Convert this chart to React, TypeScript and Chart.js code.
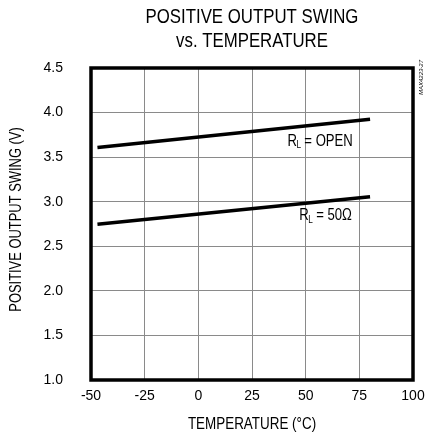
import React, { useEffect, useRef } from "react";
import { Chart, registerables } from "chart.js";

Chart.register(...registerables);

const TEMPS = [-47, 80];
const OPEN_VALUES = [3.607, 3.926];
const LOAD50_VALUES = [2.746, 3.056];

const X_TICKS = [-50, -25, 0, 25, 50, 75, 100];
const Y_TICKS = [1.0, 1.5, 2.0, 2.5, 3.0, 3.5, 4.0, 4.5];

const TITLE_LINES = ["POSITIVE OUTPUT SWING", "vs. TEMPERATURE"];
const X_TITLE = "TEMPERATURE (°C)";
const Y_TITLE = "POSITIVE OUTPUT SWING (V)";
const PART_NOTE = "MAX4223-27";

const LABELS = [
  { sub: "L", text: "= OPEN", x: 41.5, y: 3.68 },
  { sub: "L", text: "= 50Ω", x: 47, y: 2.84 },
];

const SANS = '"Liberation Sans", Arial, Helvetica, sans-serif';

function condensedText(ctx: any, text: string, x: number, y: number, size: number, sx: number, align: string) {
  ctx.save();
  ctx.translate(x, y);
  ctx.scale(sx, 1);
  ctx.font = `${size}px ${SANS}`;
  ctx.textAlign = align;
  ctx.textBaseline = "middle";
  ctx.fillText(text, 0, 0);
  ctx.restore();
}

const framePlugin = {
  id: "frame",
  afterDraw(chart: any) {
    const { ctx, chartArea, scales } = chart;
    const cx = (chartArea.left + chartArea.right) / 2;
    ctx.save();
    ctx.fillStyle = "#000";
    ctx.strokeStyle = "#000";
    ctx.lineWidth = 3.5;
    ctx.strokeRect(
      chartArea.left,
      chartArea.top,
      chartArea.right - chartArea.left,
      chartArea.bottom - chartArea.top
    );

    // chart title
    TITLE_LINES.forEach((line, i) => {
      condensedText(ctx, line, cx, 17 + i * 24, 20, 0.84, "center");
    });

    // axis titles
    condensedText(ctx, X_TITLE, cx, 424, 17, 0.79, "center");
    ctx.save();
    ctx.translate(16, 219.5);
    ctx.rotate(-Math.PI / 2);
    condensedText(ctx, Y_TITLE, 0, 0, 17, 0.76, "center");
    ctx.restore();

    // annotations
    ctx.textBaseline = "middle";
    ctx.textAlign = "left";
    for (const l of LABELS) {
      const px = scales.x.getPixelForValue(l.x);
      const py = scales.y.getPixelForValue(l.y);
      ctx.save();
      ctx.translate(px, py);
      ctx.scale(0.82, 1);
      ctx.font = `16px ${SANS}`;
      ctx.fillText("R", 0, 0);
      const rw = ctx.measureText("R").width;
      ctx.font = `10px ${SANS}`;
      ctx.fillText(l.sub, rw - 0.5, 4);
      const lw = ctx.measureText(l.sub).width;
      ctx.font = `16px ${SANS}`;
      ctx.fillText(l.text, rw + lw + 3.5, 0);
      ctx.restore();
    }

    // part note
    ctx.save();
    ctx.translate(chartArea.right + 8, chartArea.top + 27);
    ctx.rotate(-Math.PI / 2);
    ctx.font = `italic 6px ${SANS}`;
    ctx.textAlign = "left";
    ctx.textBaseline = "middle";
    ctx.fillText(PART_NOTE, 0, 0);
    ctx.restore();
    ctx.restore();
  },
};

export default function App() {
  const ref = useRef<HTMLCanvasElement | null>(null);
  useEffect(() => {
    if (!ref.current) return;
    const chart = new Chart(ref.current, {
      type: "line",
      data: {
        datasets: [
          {
            label: "RL = OPEN",
            data: TEMPS.map((t, i) => ({ x: t, y: OPEN_VALUES[i] })),
            borderColor: "#000",
            borderWidth: 3.5,
            pointRadius: 0,
            fill: false,
          },
          {
            label: "RL = 50Ω",
            data: TEMPS.map((t, i) => ({ x: t, y: LOAD50_VALUES[i] })),
            borderColor: "#000",
            borderWidth: 3.5,
            pointRadius: 0,
            fill: false,
          },
        ],
      },
      options: {
        animation: false,
        responsive: false,
        maintainAspectRatio: false,
        layout: { padding: { left: 0, right: 0, top: 68, bottom: 0 } },
        plugins: {
          legend: { display: false },
          tooltip: { enabled: false },
          title: { display: false },
        },
        scales: {
          x: {
            type: "linear",
            min: -50,
            max: 100,
            afterBuildTicks(scale: any) {
              scale.ticks = X_TICKS.map((v) => ({ value: v }));
            },
            afterFit(scale: any) {
              scale.height = 57;
              scale.paddingRight = 13;
            },
            ticks: {
              autoSkip: false,
              maxRotation: 0,
              color: "#000",
              padding: 8,
              font: { family: SANS, size: 14, lineHeight: 1.2 },
              callback: (v: any) => String(v),
            },
            grid: { color: "#8a8a8a", lineWidth: 1, drawTicks: false },
            border: { display: false },
            title: { display: false },
          },
          y: {
            type: "linear",
            min: 1,
            max: 4.5,
            afterBuildTicks(scale: any) {
              scale.ticks = Y_TICKS.map((v) => ({ value: v }));
            },
            afterFit(scale: any) {
              scale.width = 91;
              scale.paddingTop = 0;
            },
            ticks: {
              color: "#000",
              padding: 28,
              font: { family: SANS, size: 14, lineHeight: 1.2 },
              callback: (v: any) => Number(v).toFixed(1),
            },
            grid: { color: "#8a8a8a", lineWidth: 1, drawTicks: false },
            border: { display: false },
            title: { display: false },
          },
        },
      } as any,
      plugins: [framePlugin],
    });
    return () => chart.destroy();
  }, []);
  return (
    <div style={{ position: "fixed", left: 0, top: 0, width: 426, height: 437, background: "#fff" }}>
      <canvas ref={ref} width={426} height={437} style={{ width: 426, height: 437, display: "block" }} />
    </div>
  );
}
